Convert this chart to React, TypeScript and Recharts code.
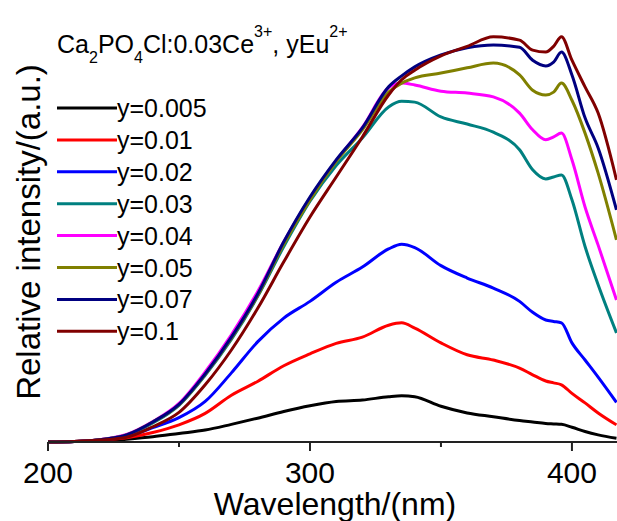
import { LineChart, Line, XAxis, YAxis, Legend } from 'recharts';

const FONT = '"Liberation Sans", Arial, sans-serif';

// wavelength (nm) sample points
const wavelengths = [200, 210, 220, 230, 240, 250, 260, 270, 280, 290, 300, 310, 320, 330, 335, 340, 350, 360, 370, 380, 385, 390, 393, 396, 400, 405, 410, 417];

// relative intensity, one list per Eu2+ content
const y0005 = [0, 0.01, 0.02, 0.06, 0.11, 0.18, 0.25, 0.37, 0.5, 0.64, 0.76, 0.85, 0.88, 0.95, 0.97, 0.95, 0.75, 0.61, 0.53, 0.45, 0.42, 0.39, 0.38, 0.37, 0.31, 0.22, 0.15, 0.08];
const y001 = [0, 0.01, 0.04, 0.09, 0.2, 0.36, 0.6, 0.98, 1.27, 1.6, 1.85, 2.07, 2.2, 2.45, 2.5, 2.39, 2.08, 1.83, 1.72, 1.55, 1.41, 1.28, 1.24, 1.2, 1.02, 0.82, 0.61, 0.36];
const y002 = [0, 0.01, 0.04, 0.12, 0.3, 0.51, 0.85, 1.45, 2.1, 2.6, 2.95, 3.35, 3.67, 4.05, 4.15, 4.08, 3.7, 3.44, 3.23, 2.95, 2.72, 2.56, 2.53, 2.5, 2.08, 1.72, 1.36, 0.83];
const y003 = [0, 0.01, 0.05, 0.15, 0.4, 0.77, 1.4, 2.15, 3.05, 4.1, 5.05, 5.8, 6.38, 7.03, 7.15, 7.13, 6.82, 6.67, 6.5, 6.13, 5.71, 5.52, 5.56, 5.6, 5.08, 4.1, 3.3, 2.29];
const y004 = [0, 0.01, 0.05, 0.16, 0.43, 0.81, 1.47, 2.25, 3.15, 4.2, 5.12, 5.9, 6.6, 7.43, 7.53, 7.49, 7.36, 7.32, 7.24, 6.9, 6.55, 6.34, 6.4, 6.48, 5.92, 4.93, 4.13, 2.98];
const y005 = [0, 0.01, 0.05, 0.15, 0.42, 0.78, 1.42, 2.18, 3.07, 4.15, 5.08, 5.88, 6.55, 7.34, 7.53, 7.64, 7.74, 7.85, 7.95, 7.7, 7.38, 7.28, 7.34, 7.53, 7.17, 6.48, 5.64, 4.24];
const y007 = [0, 0.01, 0.05, 0.15, 0.42, 0.79, 1.43, 2.2, 3.1, 4.2, 5.14, 5.92, 6.59, 7.45, 7.68, 7.87, 8.12, 8.27, 8.33, 8.28, 8.01, 7.89, 7.97, 8.18, 7.7, 6.8, 6.17, 4.87];
const y01 = [0, 0.01, 0.04, 0.1, 0.32, 0.62, 1.2, 1.93, 2.8, 3.78, 4.72, 5.56, 6.4, 7.28, 7.6, 7.8, 8.1, 8.3, 8.5, 8.43, 8.22, 8.18, 8.3, 8.5, 8.01, 7.45, 6.9, 5.5];

const seriesNames = ['y=0.005', 'y=0.01', 'y=0.02', 'y=0.03', 'y=0.04', 'y=0.05', 'y=0.07', 'y=0.1'];
const seriesColors = ['#000000', '#ff0000', '#0000ff', '#008080', '#ff00ff', '#808000', '#000080', '#800000'];
const seriesValues = [y0005, y001, y002, y003, y004, y005, y007, y01];

const xTicks = [200, 250, 300, 350, 400];
const xLabels = [200, 300, 400];
const yTicks = [0, 1, 2, 3, 4, 5, 6, 7, 8, 9];

const rows = wavelengths.map((wl, i) => {
  const row: Record<string, number> = { wl };
  seriesValues.forEach((vals, k) => {
    row['s' + k] = vals[i];
  });
  return row;
});

function BottomTick(props: any) {
  const { x, y, payload } = props;
  const major = xLabels.includes(payload.value);
  return (
    <g>
      <line x1={x} x2={x} y1={y} y2={y + (major ? 9 : 5)} stroke="#222" strokeWidth={2} />
      {major && (
        <text x={x} y={y + 41} textAnchor="middle" fontSize={30} fontFamily={FONT} fill="#000">
          {payload.value}
        </text>
      )}
    </g>
  );
}

function LegendBox({ payload }: any) {
  return (
    <svg width={170} height={260} style={{ display: 'block', overflow: 'visible' }}>
      {(payload || []).map((p: any, i: number) => (
        <g key={p.value} transform={`translate(0, ${16 + i * 31.9})`}>
          <line x1={0} x2={60} y1={0} y2={0} stroke={p.color} strokeWidth={3} />
          <text x={60} y={9} fontSize={25} fontFamily={FONT} fill="#000">
            {p.value}
          </text>
        </g>
      ))}
    </svg>
  );
}

export default function App() {
  return (
    <div style={{ position: 'absolute', left: 0, top: 0, width: 617, height: 521, background: '#fff', overflow: 'hidden' }}>
      <LineChart width={617} height={521} data={rows} margin={{ top: 13, right: 0, bottom: 0, left: 48 }}>
        <XAxis
          dataKey="wl"
          type="number"
          domain={[200, 417.2]}
          allowDataOverflow
          ticks={xTicks}
          height={79}
          tickSize={0}
          tickMargin={0}
          tickLine={false}
          tick={<BottomTick />}
          axisLine={{ stroke: '#222', strokeWidth: 2 }}
        />
        <XAxis
          xAxisId="top"
          dataKey="wl"
          type="number"
          orientation="top"
          domain={[200, 417.2]}
          allowDataOverflow
          ticks={xTicks}
          height={0}
          mirror
          tickSize={4}
          tickFormatter={() => ''}
          tickLine={{ stroke: '#222', strokeWidth: 1.5 }}
          axisLine={{ stroke: '#222', strokeWidth: 2 }}
        />
        <YAxis
          type="number"
          domain={[0, 9]}
          ticks={yTicks}
          width={0}
          mirror
          tickSize={4}
          tickFormatter={() => ''}
          tickLine={{ stroke: '#222', strokeWidth: 1.5 }}
          axisLine={{ stroke: '#222', strokeWidth: 2 }}
        />
        <Legend
          layout="vertical"
          align="center"
          verticalAlign="middle"
          content={<LegendBox />}
          wrapperStyle={{ left: 57, top: 92, width: 170, height: 260 }}
        />
        {seriesValues.map((_, k) => (
          <Line
            key={seriesNames[k]}
            type="monotone"
            dataKey={'s' + k}
            name={seriesNames[k]}
            stroke={seriesColors[k]}
            strokeWidth={3}
            dot={false}
            isAnimationActive={false}
          />
        ))}
      </LineChart>
      <svg
        width={617}
        height={521}
        style={{ position: 'absolute', left: 0, top: 0, pointerEvents: 'none' }}
        fontFamily={FONT}
      >
        <text x={57} y={53} fontSize={25} fill="#000">
          Ca<tspan fontSize={16} dy={10}>2</tspan>
          <tspan dy={-10}>PO</tspan>
          <tspan fontSize={16} dy={10}>4</tspan>
          <tspan dy={-10}>Cl:0.03Ce</tspan>
          <tspan fontSize={16} dy={-16}>3+</tspan>
          <tspan dy={16}>, yEu</tspan>
          <tspan fontSize={16} dy={-16}>2+</tspan>
        </text>
        <text transform="translate(40, 232) rotate(-90)" textAnchor="middle" fontSize={33} fill="#000">
          Relative intensity/(a.u.)
        </text>
        <text x={335} y={515} textAnchor="middle" fontSize={32} fill="#000">
          Wavelength/(nm)
        </text>
      </svg>
    </div>
  );
}
